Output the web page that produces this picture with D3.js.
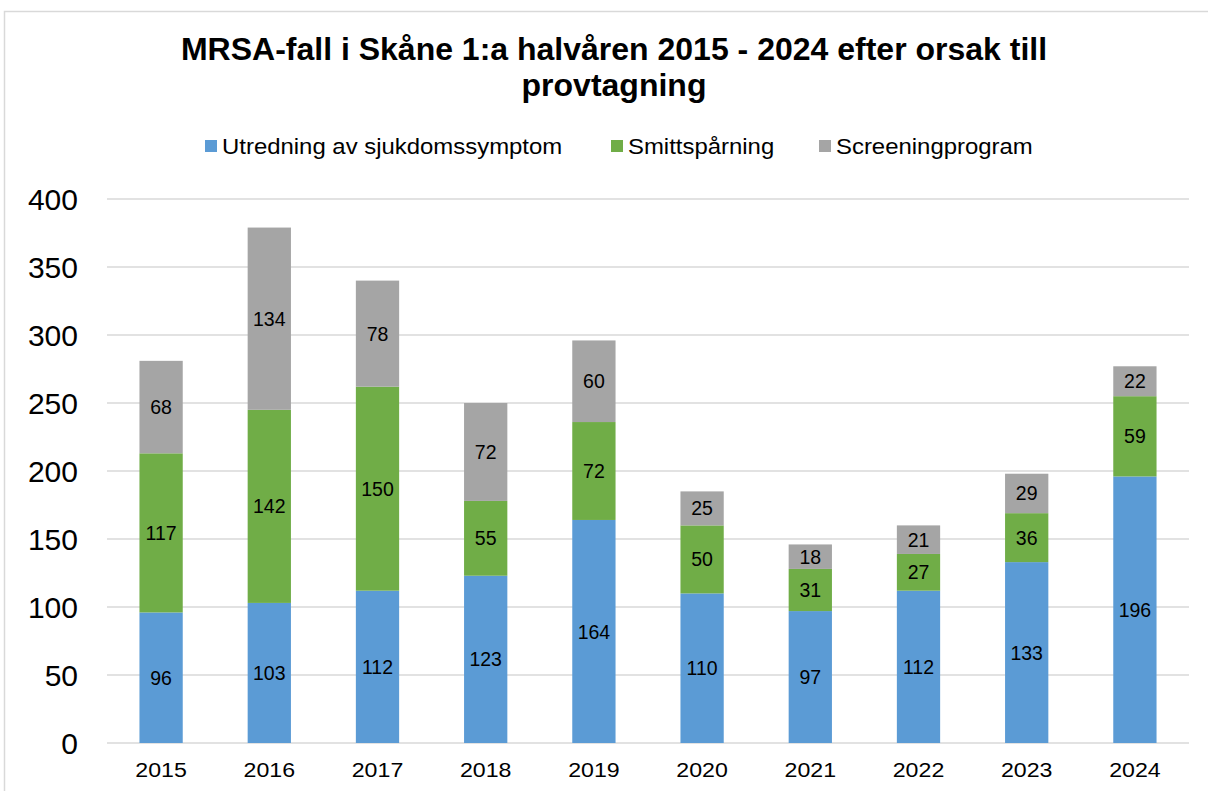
<!DOCTYPE html>
<html><head><meta charset="utf-8">
<script src="https://cdn.jsdelivr.net/npm/d3@7"></script>
<style>body{margin:0;background:#fff}svg{display:block}text{font-family:"Liberation Sans",Arial,sans-serif}</style>
</head><body>
<script>
const years = ["2015","2016","2017","2018","2019","2020","2021","2022","2023","2024"];
const utredning = [96,103,112,123,164,110,97,112,133,196];
const smittsparning = [117,142,150,55,72,50,31,27,36,59];
const screening = [68,134,78,72,60,25,18,21,29,22];
const seriesNames = ["Utredning av sjukdomssymptom","Smittspårning","Screeningprogram"];
const colors = ["#5B9BD5","#70AD47","#A5A5A5"];
const yTicks = [0,50,100,150,200,250,300,350,400];
const title = ["MRSA-fall i Skåne 1:a halvåren 2015 - 2024 efter orsak till","provtagning"];

const W=1208,H=791;
const svg=d3.select("body").append("svg").attr("width",W).attr("height",H);
svg.append("rect").attr("x",4.5).attr("y",11.5).attr("width",W+10).attr("height",H+10)
  .attr("fill","#fff").attr("stroke","#D9D9D9").attr("stroke-width",1.5);

function stretch(sel,f){
  sel.each(function(){const L=this.getComputedTextLength();
    d3.select(this).attr("textLength",L*f).attr("lengthAdjust","spacingAndGlyphs");});
}

const x=d3.scaleBand().domain(years).range([107,1189]).paddingInner(0.6).paddingOuter(0.3);
const y=d3.scaleLinear().domain([0,400]).range([743,199]);

// grid
svg.append("g").selectAll("line").data(yTicks).join("line")
  .attr("x1",107).attr("x2",1189).attr("y1",d=>y(d)).attr("y2",d=>y(d))
  .attr("stroke","#D9D9D9").attr("stroke-width",1.5);

// y axis labels
const yAxis=d3.axisLeft(y).tickValues(yTicks).tickSize(0).tickPadding(0);
const gy=svg.append("g").attr("transform","translate(78,0)").call(yAxis);
gy.select(".domain").remove();
gy.selectAll("text").attr("font-size",30).attr("fill","#000").attr("dy","0.36em")
  .style("font-family","'Liberation Sans',Arial,sans-serif");

// x axis labels
const xAxis=d3.axisBottom(x).tickSize(0).tickPadding(0);
const gx=svg.append("g").attr("transform","translate(0,777)").call(xAxis);
gx.select(".domain").remove();
gx.selectAll("text").attr("font-size",20.5).attr("fill","#000").attr("dy","0").attr("y",0)
  .style("font-family","'Liberation Sans',Arial,sans-serif");
stretch(gx.selectAll("text"),1.13);

const table=years.map((yr,i)=>({year:yr,s0:utredning[i],s1:smittsparning[i],s2:screening[i]}));
const stack=d3.stack().keys(["s0","s1","s2"])(table);

stack.forEach((layer,li)=>{
  const g=svg.append("g");
  g.selectAll("rect").data(layer).join("rect")
    .attr("x",d=>x(d.data.year)).attr("width",x.bandwidth())
    .attr("y",d=>y(d[1])).attr("height",d=>y(d[0])-y(d[1]))
    .attr("fill",colors[li]);
  g.selectAll("text").data(layer).join("text")
    .attr("x",d=>x(d.data.year)+x.bandwidth()/2)
    .attr("y",d=>(y(d[0])+y(d[1]))/2)
    .attr("dy","0.36em").attr("text-anchor","middle").attr("font-size",19.5).attr("fill","#000")
    .text(d=>d[1]-d[0]);
});

// title
svg.append("g").selectAll("text").data(title).join("text")
  .attr("x",614).attr("y",(d,i)=>60+i*36).attr("text-anchor","middle")
  .attr("font-size",32).attr("font-weight","bold").attr("fill","#000").text(d=>d);

// legend
const legX=[205,611,819];
const lg=svg.append("g");
seriesNames.forEach((n,i)=>{
  lg.append("rect").attr("x",legX[i]).attr("y",140).attr("width",12).attr("height",12).attr("fill",colors[i]);
  lg.append("text").attr("x",legX[i]+17).attr("y",146).attr("dy","0.36em").attr("font-size",22)
    .attr("fill","#000").text(n);
});
stretch(lg.selectAll("text"),1.087);
</script>
</body></html>
